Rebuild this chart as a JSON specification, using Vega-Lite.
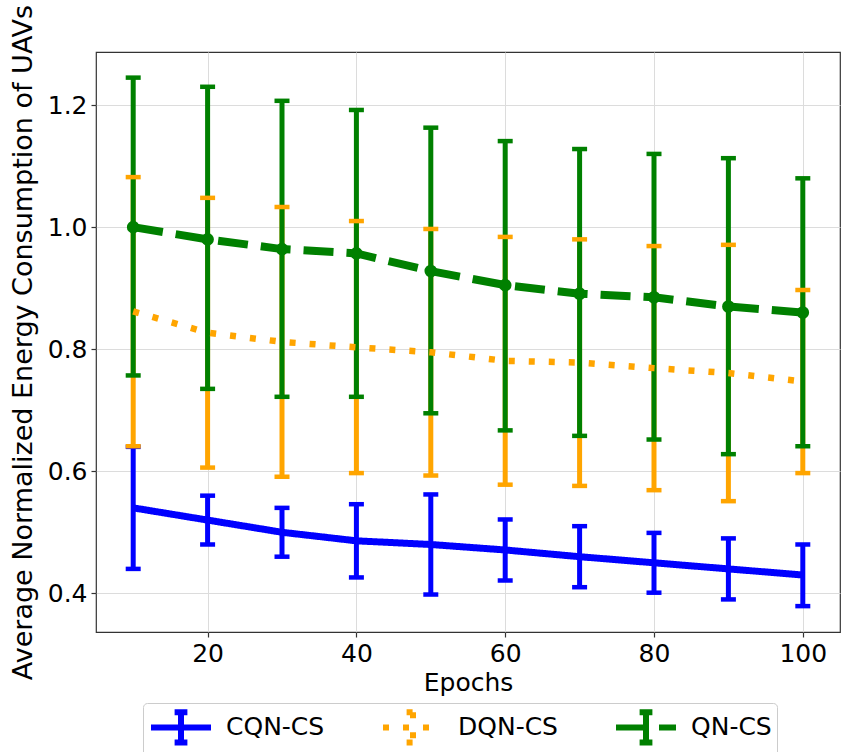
{
  "$schema": "https://vega.github.io/schema/vega-lite/v6.json",
  "width": 744,
  "height": 580,
  "autosize": {"type": "none"},
  "padding": {"left": 96, "top": 52, "right": 1, "bottom": 120},
  "background": "white",
  "data": {"values": [
    {"epoch": 10, "series": "CQN-CS", "mean": 0.54, "lo": 0.44, "hi": 0.64},
    {"epoch": 20, "series": "CQN-CS", "mean": 0.52, "lo": 0.48, "hi": 0.56},
    {"epoch": 30, "series": "CQN-CS", "mean": 0.50, "lo": 0.46, "hi": 0.54},
    {"epoch": 40, "series": "CQN-CS", "mean": 0.486, "lo": 0.426, "hi": 0.546},
    {"epoch": 50, "series": "CQN-CS", "mean": 0.48, "lo": 0.398, "hi": 0.562},
    {"epoch": 60, "series": "CQN-CS", "mean": 0.471, "lo": 0.421, "hi": 0.521},
    {"epoch": 70, "series": "CQN-CS", "mean": 0.46, "lo": 0.41, "hi": 0.51},
    {"epoch": 80, "series": "CQN-CS", "mean": 0.45, "lo": 0.401, "hi": 0.499},
    {"epoch": 90, "series": "CQN-CS", "mean": 0.44, "lo": 0.39, "hi": 0.49},
    {"epoch": 100, "series": "CQN-CS", "mean": 0.43, "lo": 0.379, "hi": 0.48},
    {"epoch": 10, "series": "DQN-CS", "mean": 0.862, "lo": 0.641, "hi": 1.082},
    {"epoch": 20, "series": "DQN-CS", "mean": 0.827, "lo": 0.606, "hi": 1.048},
    {"epoch": 30, "series": "DQN-CS", "mean": 0.812, "lo": 0.591, "hi": 1.033},
    {"epoch": 40, "series": "DQN-CS", "mean": 0.803, "lo": 0.597, "hi": 1.01},
    {"epoch": 50, "series": "DQN-CS", "mean": 0.795, "lo": 0.593, "hi": 0.997},
    {"epoch": 60, "series": "DQN-CS", "mean": 0.781, "lo": 0.578, "hi": 0.984},
    {"epoch": 70, "series": "DQN-CS", "mean": 0.778, "lo": 0.576, "hi": 0.98},
    {"epoch": 80, "series": "DQN-CS", "mean": 0.769, "lo": 0.569, "hi": 0.969},
    {"epoch": 90, "series": "DQN-CS", "mean": 0.761, "lo": 0.551, "hi": 0.971},
    {"epoch": 100, "series": "DQN-CS", "mean": 0.747, "lo": 0.597, "hi": 0.897},
    {"epoch": 10, "series": "QN-CS", "mean": 1.0, "lo": 0.757, "hi": 1.245},
    {"epoch": 20, "series": "QN-CS", "mean": 0.98, "lo": 0.735, "hi": 1.23},
    {"epoch": 30, "series": "QN-CS", "mean": 0.964, "lo": 0.722, "hi": 1.207},
    {"epoch": 40, "series": "QN-CS", "mean": 0.957, "lo": 0.722, "hi": 1.192},
    {"epoch": 50, "series": "QN-CS", "mean": 0.928, "lo": 0.695, "hi": 1.163},
    {"epoch": 60, "series": "QN-CS", "mean": 0.905, "lo": 0.667, "hi": 1.141},
    {"epoch": 70, "series": "QN-CS", "mean": 0.891, "lo": 0.658, "hi": 1.128},
    {"epoch": 80, "series": "QN-CS", "mean": 0.885, "lo": 0.652, "hi": 1.12},
    {"epoch": 90, "series": "QN-CS", "mean": 0.87, "lo": 0.628, "hi": 1.113},
    {"epoch": 100, "series": "QN-CS", "mean": 0.86, "lo": 0.641, "hi": 1.08}
  ]},
  "encoding": {
    "x": {"field": "epoch", "type": "quantitative", "title": "Epochs",
      "scale": {"domain": [5, 105], "nice": false, "zero": false},
      "axis": {"values": [20, 40, 60, 80, 100]}}
  },
  "layer": [
    {"transform": [{"filter": "datum.series === 'CQN-CS'"}],
     "mark": {"type": "rule", "color": "#0000ff", "strokeWidth": 5},
     "encoding": {
       "y": {"field": "lo", "type": "quantitative", "title": "Average Normalized Energy Consumption of UAVs",
         "scale": {"domain": [0.3366, 1.287], "nice": false, "zero": false},
         "axis": {"values": [0.4, 0.6, 0.8, 1.0, 1.2], "format": ".1f"}},
       "y2": {"field": "hi"}}},
    {"transform": [{"filter": "datum.series === 'DQN-CS'"}],
     "mark": {"type": "rule", "color": "#ffa500", "strokeWidth": 5},
     "encoding": {
       "y": {"field": "lo", "type": "quantitative", "title": "Average Normalized Energy Consumption of UAVs"},
       "y2": {"field": "hi"}}},
    {"transform": [{"filter": "datum.series === 'QN-CS'"}],
     "mark": {"type": "rule", "color": "#008000", "strokeWidth": 5},
     "encoding": {
       "y": {"field": "lo", "type": "quantitative", "title": "Average Normalized Energy Consumption of UAVs"},
       "y2": {"field": "hi"}}},

    {"transform": [{"filter": "datum.series === 'CQN-CS'"}],
     "mark": {"type": "tick", "orient": "horizontal", "color": "#0000ff", "size": 15, "thickness": 4.5, "opacity": 1},
     "encoding": {"y": {"field": "lo", "type": "quantitative", "title": "Average Normalized Energy Consumption of UAVs"}}},
    {"transform": [{"filter": "datum.series === 'CQN-CS'"}],
     "mark": {"type": "tick", "orient": "horizontal", "color": "#0000ff", "size": 15, "thickness": 4.5, "opacity": 1},
     "encoding": {"y": {"field": "hi", "type": "quantitative", "title": "Average Normalized Energy Consumption of UAVs"}}},
    {"transform": [{"filter": "datum.series === 'DQN-CS'"}],
     "mark": {"type": "tick", "orient": "horizontal", "color": "#ffa500", "size": 15, "thickness": 4.5, "opacity": 1},
     "encoding": {"y": {"field": "lo", "type": "quantitative", "title": "Average Normalized Energy Consumption of UAVs"}}},
    {"transform": [{"filter": "datum.series === 'DQN-CS'"}],
     "mark": {"type": "tick", "orient": "horizontal", "color": "#ffa500", "size": 15, "thickness": 4.5, "opacity": 1},
     "encoding": {"y": {"field": "hi", "type": "quantitative", "title": "Average Normalized Energy Consumption of UAVs"}}},
    {"transform": [{"filter": "datum.series === 'QN-CS'"}],
     "mark": {"type": "tick", "orient": "horizontal", "color": "#008000", "size": 15, "thickness": 4.5, "opacity": 1},
     "encoding": {"y": {"field": "lo", "type": "quantitative", "title": "Average Normalized Energy Consumption of UAVs"}}},
    {"transform": [{"filter": "datum.series === 'QN-CS'"}],
     "mark": {"type": "tick", "orient": "horizontal", "color": "#008000", "size": 15, "thickness": 4.5, "opacity": 1},
     "encoding": {"y": {"field": "hi", "type": "quantitative", "title": "Average Normalized Energy Consumption of UAVs"}}},

    {"transform": [{"filter": "datum.series === 'CQN-CS'"}],
     "mark": {"type": "line", "strokeWidth": 7, "strokeCap": "butt"},
     "encoding": {
       "y": {"field": "mean", "type": "quantitative", "title": "Average Normalized Energy Consumption of UAVs"},
       "color": {"field": "series", "type": "nominal",
         "scale": {"domain": ["CQN-CS", "DQN-CS", "QN-CS"], "range": ["#0000ff", "#ffa500", "#008000"]},
         "legend": {"title": null}},
       "strokeDash": {"field": "series", "type": "nominal",
         "scale": {"domain": ["CQN-CS", "DQN-CS", "QN-CS"], "range": [[1, 0], [6, 14], [30, 13]]},
         "legend": {"title": null}}}},
    {"transform": [{"filter": "datum.series === 'DQN-CS'"}],
     "mark": {"type": "line", "strokeWidth": 6.5, "strokeCap": "butt"},
     "encoding": {
       "y": {"field": "mean", "type": "quantitative", "title": "Average Normalized Energy Consumption of UAVs"},
       "color": {"field": "series", "type": "nominal"},
       "strokeDash": {"field": "series", "type": "nominal"}}},
    {"transform": [{"filter": "datum.series === 'QN-CS'"}],
     "mark": {"type": "line", "strokeWidth": 8, "strokeCap": "butt"},
     "encoding": {
       "y": {"field": "mean", "type": "quantitative", "title": "Average Normalized Energy Consumption of UAVs"},
       "color": {"field": "series", "type": "nominal"},
       "strokeDash": {"field": "series", "type": "nominal"}}},
    {"transform": [{"filter": "datum.series === 'QN-CS'"}],
     "mark": {"type": "point", "filled": true, "shape": "circle", "size": 160, "color": "#008000", "opacity": 1},
     "encoding": {"y": {"field": "mean", "type": "quantitative", "title": "Average Normalized Energy Consumption of UAVs"}}}
  ],
  "config": {
    "font": "DejaVu Sans",
    "view": {"stroke": "#333333", "strokeWidth": 1.2},
    "axis": {
      "labelFont": "DejaVu Sans", "titleFont": "DejaVu Sans",
      "labelFontSize": 25, "titleFontSize": 25, "titleFontWeight": "normal",
      "labelColor": "#000000", "titleColor": "#000000",
      "grid": true, "gridColor": "#dcdcdc", "gridWidth": 1,
      "domain": false, "tickColor": "#333333", "tickSize": 5, "tickWidth": 1.2,
      "labelPadding": 4
    },
    "axisX": {"titlePadding": 4},
    "axisY": {"titlePadding": 10, "titleFontSize": 27},
    "legend": {
      "orient": "none", "legendX": 47, "legendY": 651, "direction": "horizontal",
      "symbolType": "M-1,0H2.75M0.875,-0.95V0.95M0.475,-0.95H1.275M0.475,0.95H1.275",
      "symbolSize": 1024, "symbolStrokeWidth": 6, "symbolFillColor": "transparent",
      "labelFont": "DejaVu Sans", "labelFontSize": 25, "labelColor": "#000000", "labelOffset": 40,
      "columnPadding": 46, "padding": 5,
      "strokeColor": "#cccccc", "fillColor": "white", "cornerRadius": 4
    }
  }
}
